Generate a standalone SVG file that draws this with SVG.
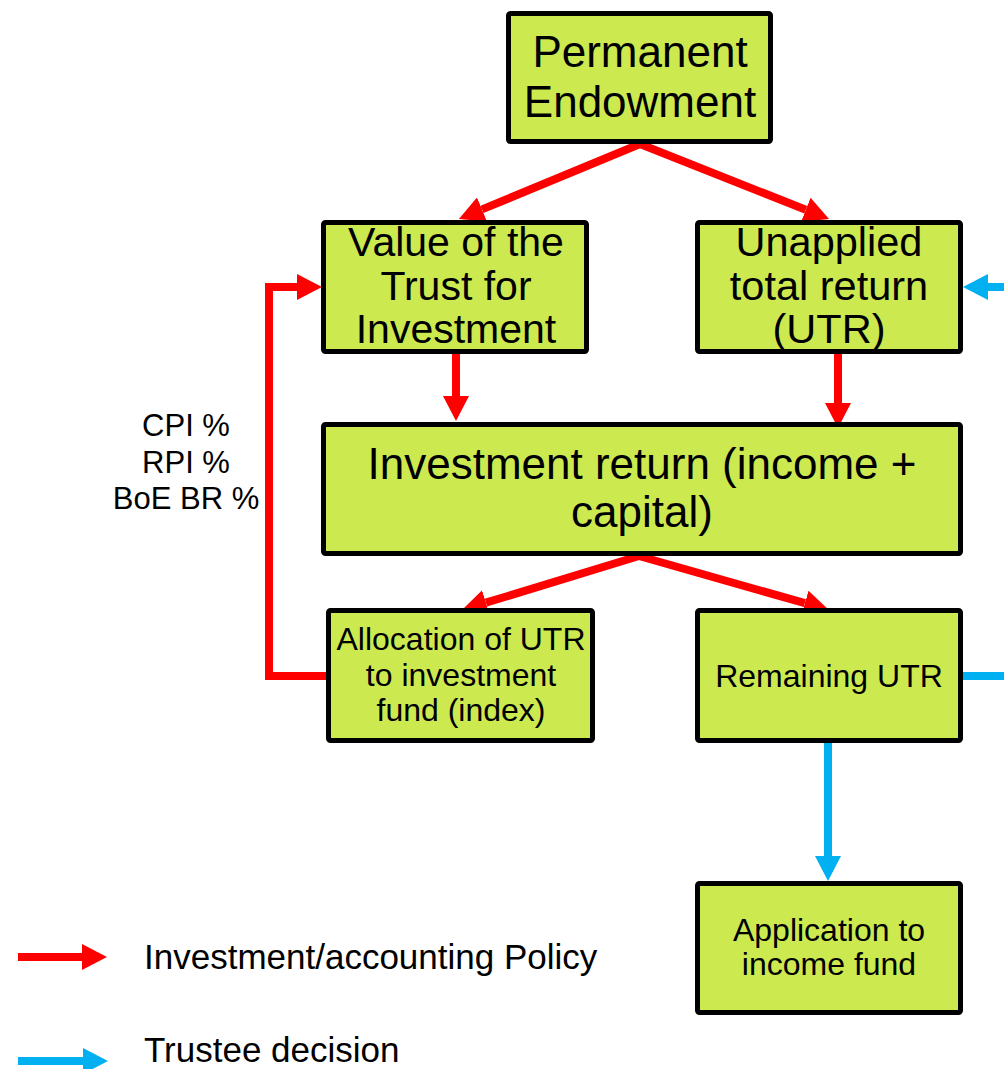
<svg xmlns="http://www.w3.org/2000/svg" width="1004" height="1069" viewBox="0 0 1004 1069">
<style>
.box{fill:#CCEA50;stroke:#000;stroke-width:5}
.t{font-family:"Liberation Sans",Arial,sans-serif;fill:#000;text-anchor:middle}
.l{text-anchor:start}
.red{stroke:#FF0000;stroke-width:8;fill:none}
.blue{stroke:#00B0F0;stroke-width:8;fill:none}
</style>
<defs>
<marker id="hr" markerUnits="userSpaceOnUse" markerWidth="25" markerHeight="26" viewBox="0 -13 25 26" refX="0" refY="0" orient="auto"><path d="M0,-13 L25,0 L0,13 Z" fill="#FF0000"/></marker>
<marker id="hb" markerUnits="userSpaceOnUse" markerWidth="25" markerHeight="26" viewBox="0 -13 25 26" refX="0" refY="0" orient="auto"><path d="M0,-13 L25,0 L0,13 Z" fill="#00B0F0"/></marker>
</defs>
<rect width="1004" height="1069" fill="#fff"/>
<g id="connectors">
<line class="red" x1="640" y1="144" x2="482" y2="209.4" marker-end="url(#hr)"/>
<line class="red" x1="640" y1="144" x2="805.8" y2="209.8" marker-end="url(#hr)"/>
<line class="red" x1="456" y1="354" x2="456" y2="396" marker-end="url(#hr)"/>
<line class="red" x1="838" y1="354" x2="838" y2="403" marker-end="url(#hr)"/>
<line class="red" x1="639" y1="556" x2="485.9" y2="602.7" marker-end="url(#hr)"/>
<line class="red" x1="639" y1="556" x2="804.9" y2="603.2" marker-end="url(#hr)"/>
<polyline class="red" points="327,676 269,676 269,287 297,287" marker-end="url(#hr)"/>
<line class="blue" x1="1004" y1="287" x2="988" y2="287" marker-end="url(#hb)"/>
<line class="blue" x1="963" y1="676" x2="1004" y2="676"/>
<line class="blue" x1="828" y1="743" x2="828" y2="856" marker-end="url(#hb)"/>
</g>
<g id="n1"><rect class="box" x="508.5" y="13.5" width="262" height="128" rx="2"/>
<text class="t" x="640" y="67" font-size="44">Permanent</text><text class="t" x="640" y="117" font-size="44">Endowment</text></g>
<g id="n2"><rect class="box" x="323.5" y="222.5" width="263" height="129" rx="2"/>
<text class="t" x="456" y="256" font-size="41">Value of the</text><text class="t" x="456" y="300" font-size="41">Trust for</text><text class="t" x="456" y="343" font-size="41">Investment</text></g>
<g id="n3"><rect class="box" x="697.5" y="222.5" width="263" height="129" rx="2"/>
<text class="t" x="829" y="256" font-size="41.5">Unapplied</text><text class="t" x="829" y="300" font-size="41.5">total return</text><text class="t" x="829" y="343" font-size="41.5">(UTR)</text></g>
<g id="n4"><rect class="box" x="323.5" y="424.5" width="637" height="129" rx="2"/>
<text class="t" x="642" y="479" font-size="44">Investment return (income +</text><text class="t" x="642" y="527" font-size="44">capital)</text></g>
<g id="n5"><rect class="box" x="328.5" y="610.5" width="264" height="130" rx="2"/>
<text class="t" x="461" y="650" font-size="32">Allocation of UTR</text><text class="t" x="461" y="686" font-size="32">to investment</text><text class="t" x="461" y="721" font-size="32">fund (index)</text></g>
<g id="n6"><rect class="box" x="697.5" y="610.5" width="263" height="130" rx="2"/>
<text class="t" x="829" y="687" font-size="32">Remaining UTR</text></g>
<g id="n7"><rect class="box" x="697.5" y="883.5" width="263" height="129" rx="2"/>
<text class="t" x="829" y="941" font-size="32">Application to</text><text class="t" x="829" y="975" font-size="32">income fund</text></g>
<g id="rates"><text class="t" x="186" y="436" font-size="31">CPI %</text><text class="t" x="186" y="473" font-size="31">RPI %</text><text class="t" x="186" y="509" font-size="31">BoE BR %</text></g>
<g id="legend">
<line class="red" x1="18" y1="957" x2="82" y2="957" marker-end="url(#hr)"/>
<text class="t l" x="144" y="969" font-size="35">Investment/accounting Policy</text>
<line class="blue" x1="18" y1="1061" x2="83" y2="1061" marker-end="url(#hb)"/>
<text class="t l" x="144" y="1062" font-size="35">Trustee decision</text>
</g>
</svg>
